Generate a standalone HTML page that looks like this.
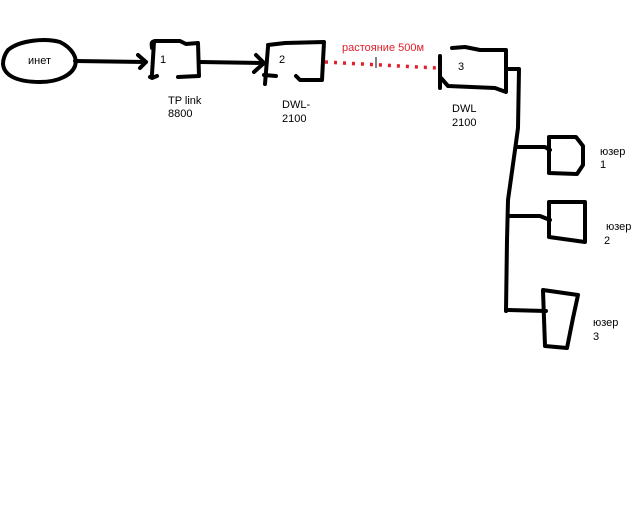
<!DOCTYPE html>
<html><head><meta charset="utf-8"><style>
body{margin:0;background:#fff;width:640px;height:512px;overflow:hidden}
svg{display:block}
text{font-family:"Liberation Sans",sans-serif;font-size:11px;fill:#000}
</style></head><body>
<svg width="640" height="512" viewBox="0 0 640 512">
<g fill="none" stroke="#000" stroke-width="4" stroke-linecap="round" stroke-linejoin="round">
<path d="M8,50 C20,40 45,38 60,42 C72,48 78,58 75,66 C72,74 60,82 40,82 C18,82 4,76 3,64 C3,58 5,54 8,50 Z"/>
<path d="M75,61 L146,62 M138,55 L146,62 L140,68"/>
<path d="M154,42 L152,74 M152,48 C152,45 150,42 155,41 L180,41 L186,44 L198,43 L199,76 L178,77 M150,77 L152,78 L157,76"/>
<path d="M200,62 L264,63 M256,55 L264,63 L254,72"/>
<path d="M268,47 L265,84 M268,45 L285,43 L324,42 L322,80 L300,80 L296,76 M264,75 L276,76"/>
<path d="M440,56 L440,88 M441,78 L448,86 L495,88 L506,92 L506,50 L480,50 L465,47 L452,48"/>
<path d="M506,69 L519,69 L518,128 L515,150 L508,200 L507,240 L506,311"/>
<path d="M517,147 L545,147 L550,150"/>
<path d="M549,138 L549,173 L577,174 L583,165 L583,146 L576,137 L549,137"/>
<path d="M508,216 L540,216 L550,220"/>
<path d="M549,202 L549,237 L585,242 L585,202 Z"/>
<path d="M506,310 L546,311"/>
<path d="M543,291 L545,346 L567,348 L573,318 L578,295 L543,290"/>
</g>
<path d="M325,62 L437,68" stroke="#e0202a" stroke-width="3.5" stroke-dasharray="3,6" fill="none"/>
<line x1="376" y1="57" x2="376" y2="68" stroke="#000" stroke-width="1"/>
<text x="28" y="64">инет</text>
<text x="160" y="63">1</text>
<text x="279" y="63">2</text>
<text x="458" y="70">3</text>
<text x="168" y="104">TP link</text>
<text x="168" y="117">8800</text>
<text x="282" y="108">DWL-</text>
<text x="282" y="122">2100</text>
<text x="452" y="112">DWL</text>
<text x="452" y="126">2100</text>
<text x="342" y="51" style="fill:#e0202a">растояние 500м</text>
<text x="600" y="155">юзер</text>
<text x="600" y="168">1</text>
<text x="606" y="230">юзер</text>
<text x="604" y="244">2</text>
<text x="593" y="326">юзер</text>
<text x="593" y="340">3</text>
</svg>
</body></html>
